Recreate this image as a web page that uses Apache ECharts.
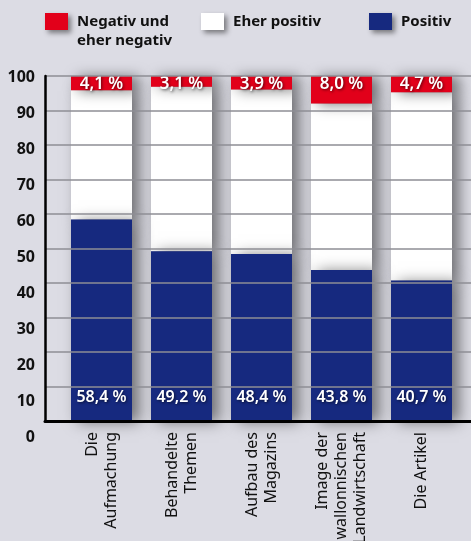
<!DOCTYPE html>
<html><head><meta charset="utf-8">
<script src="https://cdn.jsdelivr.net/npm/echarts@6/dist/echarts.min.js"></script>
<style>html,body{margin:0;padding:0;background:#dcdce4;}#c{width:471px;height:541px;}</style>
</head><body><div id="c"></div>
<script>
const categories = ['Die\nAufmachung', 'Behandelte\nThemen', 'Aufbau des\nMagazins', 'Image der\nwallonnischen\nLandwirtschaft', 'Die Artikel'];
const positiv = [58.4, 49.2, 48.4, 43.8, 40.7];
const eherPositiv = [37.5, 47.7, 47.7, 48.2, 54.6];
const negativ = [4.1, 3.1, 3.9, 8.0, 4.7];
const yTicks = [0, 10, 20, 30, 40, 50, 60, 70, 80, 90, 100];
const seriesNames = ['Negativ und eher negativ', 'Eher positiv', 'Positiv'];

const RED = '#e2001a', BLUE = '#16297f', WHITE = '#ffffff';
const FONT = 'Noto Sans';
const fmt = v => v.toFixed(1).replace('.', ',') + ' %';
const barShadow = { shadowBlur: 14, shadowColor: 'rgba(0,0,0,0.5)', shadowOffsetX: 7, shadowOffsetY: 1 };
const valLabel = {
  show: true, color: '#fff', fontFamily: FONT, fontSize: 16, fontWeight: 600, lineHeight: 16,
  textShadowColor: 'rgba(0,0,0,0.6)', textShadowBlur: 3, textShadowOffsetX: 1, textShadowOffsetY: 1,
  formatter: p => fmt(p.value)
};
const legendBase = {
  orient: 'horizontal', itemWidth: 23, itemHeight: 17, itemGap: 8, padding: 0, icon: 'rect',
  textStyle: { fontFamily: FONT, fontSize: 15, fontWeight: 'bold', color: '#111', lineHeight: 19, padding: [0, 0, 0, 4] },
  itemStyle: { shadowBlur: 5, shadowColor: 'rgba(0,0,0,0.45)', shadowOffsetX: 3, shadowOffsetY: 3, borderWidth: 0 },
  selectedMode: false
};

const chart = echarts.init(document.getElementById('c'), null, { renderer: 'canvas' });
chart.setOption({
  backgroundColor: '#dcdce4',
  animation: false,
  legend: [
    Object.assign({}, legendBase, { left: 45, top: -7, data: [seriesNames[0]],
      formatter: () => '\nNegativ und\neher negativ' }),
    Object.assign({}, legendBase, { left: 201, top: 12, data: [seriesNames[1]] }),
    Object.assign({}, legendBase, { left: 369, top: 12, data: [seriesNames[2]] })
  ],
  grid: [
    { left: 61.5, width: 400, top: 76, height: 345, outerBoundsMode: 'none', containLabel: false },
    { left: 45, right: 0, top: 76, height: 345, outerBoundsMode: 'none', containLabel: false },
    { left: 45, right: 0, top: 77, height: 360, outerBoundsMode: 'none', containLabel: false }
  ],
  xAxis: [
    { gridIndex: 0, type: 'category', data: categories,
      axisLine: { show: false }, axisTick: { show: false },
      axisLabel: { rotate: 90, margin: 11, fontFamily: FONT, fontSize: 16, color: '#111', lineHeight: 19, align: 'right' } },
    { gridIndex: 1, type: 'value', min: 0, max: 1, z: 5,
      axisLine: { show: true, onZero: false, lineStyle: { color: '#000', width: 3 } },
      axisTick: { show: false }, axisLabel: { show: false }, splitLine: { show: false } },
    { gridIndex: 2, type: 'value', min: 0, max: 1, show: false }
  ],
  yAxis: [
    { gridIndex: 0, type: 'value', min: 0, max: 100, show: false },
    { gridIndex: 1, type: 'value', min: 0, max: 100, interval: 10, z: 5,
      axisLine: { show: true, lineStyle: { color: '#000', width: 2.5 } },
      axisTick: { show: false }, axisLabel: { show: false },
      splitLine: { show: true, z: 0, lineStyle: { color: '#8e8e94', width: 1.5 } } },
    { gridIndex: 2, type: 'value', min: 0, max: 100, interval: 10,
      axisLine: { show: false }, axisTick: { show: false }, splitLine: { show: false },
      axisLabel: { margin: 10, fontFamily: FONT, fontSize: 16, fontWeight: 'bold', color: '#111',
        formatter: v => yTicks.indexOf(v) >= 0 ? String(v) : '' } }
  ],
  series: [
    { name: seriesNames[2], type: 'bar', stack: 's', xAxisIndex: 0, yAxisIndex: 0, barWidth: 61, data: positiv, z: 3,
      itemStyle: Object.assign({ color: BLUE }, barShadow),
      label: Object.assign({}, valLabel, { position: 'insideBottom', distance: 16 }) },
    { name: seriesNames[1], type: 'bar', stack: 's', xAxisIndex: 0, yAxisIndex: 0, barWidth: 61, data: eherPositiv, z: 2,
      itemStyle: Object.assign({ color: WHITE }, barShadow) },
    { name: seriesNames[0], type: 'bar', stack: 's', xAxisIndex: 0, yAxisIndex: 0, barWidth: 61, data: negativ, z: 3,
      itemStyle: Object.assign({ color: RED }, barShadow),
      label: Object.assign({}, valLabel, { position: 'insideTop', distance: 0, fontSize: 17 }) }
  ]
});
</script></body></html>
